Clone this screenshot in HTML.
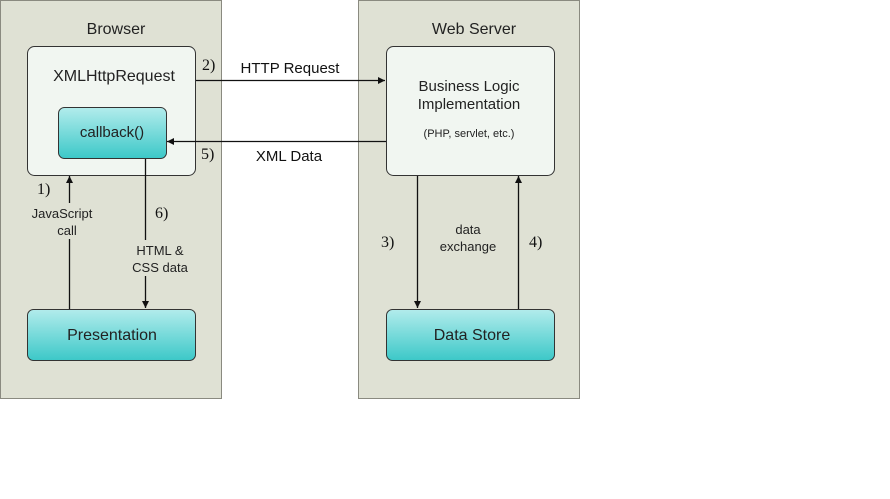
<!DOCTYPE html>
<html><head><meta charset="utf-8"><style>html,body{margin:0;padding:0;background:#fff;}svg{display:block}</style></head>
<body>
<svg width="890" height="499" viewBox="0 0 890 499" xmlns="http://www.w3.org/2000/svg" font-family="Liberation Sans, sans-serif">
<defs>
<linearGradient id="g" x1="0" y1="0" x2="0" y2="1"><stop offset="0" stop-color="#b2ecec"/><stop offset="1" stop-color="#3cc8c8"/></linearGradient>
<marker id="a" markerWidth="8" markerHeight="8" refX="7" refY="4" orient="auto" markerUnits="userSpaceOnUse"><path d="M0,0.5 L7,4 L0,7.5z" fill="#111"/></marker>
</defs>
<rect x="0.5" y="0.5" width="221" height="398" fill="#dfe1d4" stroke="#8a8a80"/>
<rect x="358.5" y="0.5" width="221" height="398" fill="#dfe1d4" stroke="#8a8a80"/>
<text x="116" y="34" font-size="16" text-anchor="middle" fill="#222">Browser</text>
<text x="474" y="34" font-size="16" text-anchor="middle" fill="#222">Web Server</text>
<rect x="27.5" y="46.5" width="168" height="129" rx="7" fill="#f1f6f1" stroke="#333"/>
<text x="114" y="81" font-size="16" text-anchor="middle" fill="#222">XMLHttpRequest</text>
<rect x="58.5" y="107.5" width="108" height="51" rx="6" fill="url(#g)" stroke="#333"/>
<text x="112" y="137" font-size="15" text-anchor="middle" fill="#222">callback()</text>
<rect x="27.5" y="309.5" width="168" height="51" rx="6" fill="url(#g)" stroke="#333"/>
<text x="112" y="340" font-size="16" text-anchor="middle" fill="#222">Presentation</text>
<rect x="386.5" y="46.5" width="168" height="129" rx="7" fill="#f1f6f1" stroke="#333"/>
<text x="469" y="91" font-size="15" text-anchor="middle" fill="#222">Business Logic</text>
<text x="469" y="109" font-size="15" text-anchor="middle" fill="#222">Implementation</text>
<text x="469" y="137" font-size="11" text-anchor="middle" fill="#222">(PHP, servlet, etc.)</text>
<rect x="386.5" y="309.5" width="168" height="51" rx="6" fill="url(#g)" stroke="#333"/>
<text x="472" y="340" font-size="16" text-anchor="middle" fill="#222">Data Store</text>
<g stroke="#111" stroke-width="1.3" fill="none">
<line x1="196" y1="80.5" x2="385" y2="80.5" marker-end="url(#a)"/>
<line x1="386" y1="141.5" x2="167" y2="141.5" marker-end="url(#a)"/>
<line x1="69.5" y1="309" x2="69.5" y2="176" marker-end="url(#a)"/>
<line x1="145.5" y1="159" x2="145.5" y2="308" marker-end="url(#a)"/>
<line x1="417.5" y1="176" x2="417.5" y2="308" marker-end="url(#a)"/>
<line x1="518.5" y1="309" x2="518.5" y2="176" marker-end="url(#a)"/>
</g>
<rect x="28" y="203" width="70" height="36" fill="#dfe1d4"/>
<text x="62" y="218" font-size="13" text-anchor="middle" fill="#222">JavaScript</text>
<text x="67" y="235" font-size="13" text-anchor="middle" fill="#222">call</text>
<rect x="128" y="240" width="64" height="36" fill="#dfe1d4"/>
<text x="160" y="255" font-size="13" text-anchor="middle" fill="#222">HTML &amp;</text>
<text x="160" y="272" font-size="13" text-anchor="middle" fill="#222">CSS data</text>
<text x="468" y="234" font-size="13" text-anchor="middle" fill="#222">data</text>
<text x="468" y="251" font-size="13" text-anchor="middle" fill="#222">exchange</text>
<text x="290" y="73" font-size="15" text-anchor="middle" fill="#111">HTTP Request</text>
<text x="289" y="161" font-size="15" text-anchor="middle" fill="#111">XML Data</text>
<g font-family="Liberation Serif, serif" font-size="16" fill="#111">
<text x="202" y="70">2)</text>
<text x="201" y="159">5)</text>
<text x="37" y="194">1)</text>
<text x="155" y="218">6)</text>
<text x="381" y="247">3)</text>
<text x="529" y="247">4)</text>
</g>
</svg>
</body></html>
